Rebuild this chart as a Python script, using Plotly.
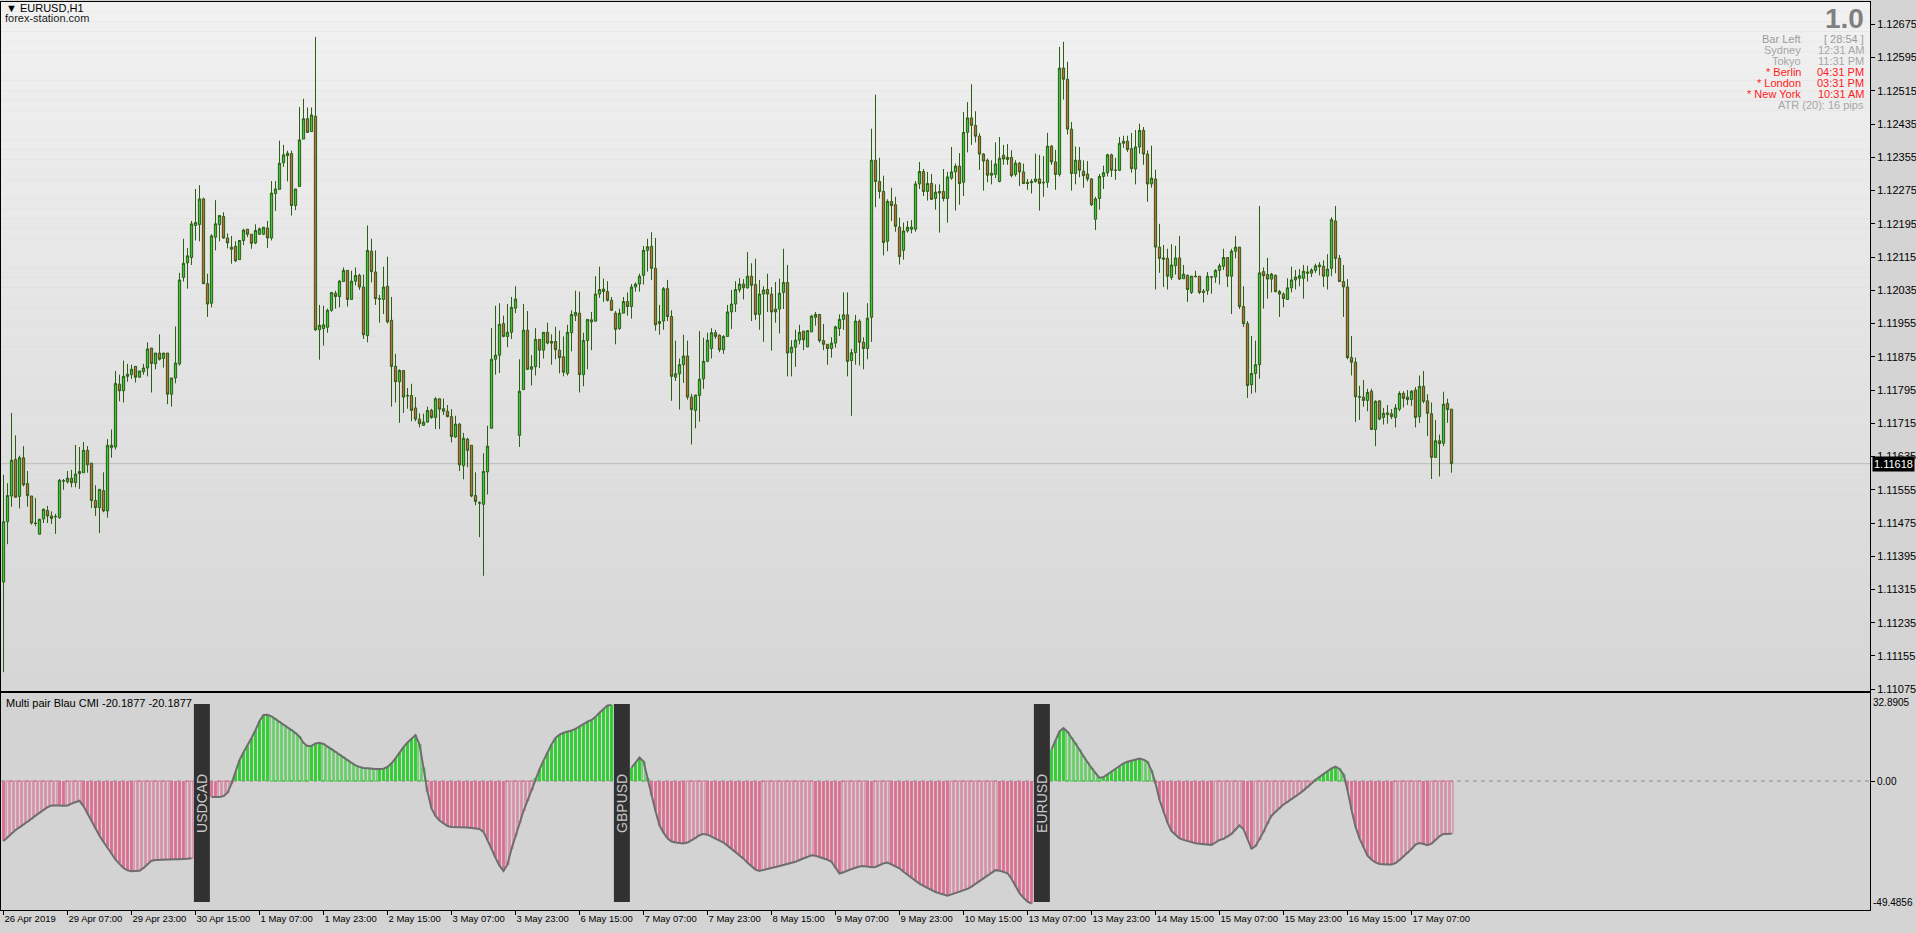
import plotly.graph_objects as go

# ---------------- data ----------------
opens = [
1.11333,1.11478,1.11540,1.11628,1.11539,1.11632,1.11570,1.11540,1.11475,1.11448,
1.11485,1.11505,1.11492,1.11491,1.11488,1.11577,1.11574,1.11583,1.11572,1.11594,
1.11596,1.11650,1.11619,1.11529,1.11512,1.11553,1.11504,1.11656,1.11658,1.11809,
1.11793,1.11828,1.11832,1.11852,1.11826,1.11839,1.11848,1.11896,1.11858,1.11884,
1.11871,1.11884,1.11785,1.11824,1.11858,1.12066,1.12101,1.12114,1.12191,1.12193,
1.12255,1.12051,1.12004,1.12163,1.12193,1.12213,1.12161,1.12134,1.12141,1.12109,
1.12155,1.12182,1.12170,1.12149,1.12170,1.12170,1.12185,1.12161,1.12268,1.12278,
1.12342,1.12359,1.12364,1.12239,1.12285,1.12399,1.12448,1.12417,1.12454,1.11940,
1.11943,1.11946,1.11987,1.12028,1.12020,1.12056,1.12083,1.12013,1.12057,1.12071,
1.12043,1.11926,1.12129,1.12079,1.12015,1.12013,1.12045,1.11963,1.11852,1.11815,
1.11842,1.11782,1.11782,1.11752,1.11725,1.11710,1.11718,1.11746,1.11729,1.11774,
1.11750,1.11744,1.11731,1.11682,1.11713,1.11613,1.11677,1.11662,1.11541,1.11524,
1.11520,1.11598,1.11703,1.11869,1.11879,1.11955,1.11924,1.11934,1.11992,1.11686,
1.11796,1.11939,1.11845,1.11851,1.11917,1.11891,1.11934,1.11908,1.11912,1.11891,
1.11875,1.11835,1.11933,1.11974,1.11980,1.11832,1.11914,1.11959,1.11961,1.12026,
1.12038,1.12032,1.12011,1.11980,1.11943,1.11980,1.12008,1.11996,1.12043,1.12050,
1.12071,1.12131,1.12141,1.12088,1.11955,1.11961,1.12039,1.11972,1.11826,1.11834,
1.11856,1.11877,1.11778,1.11746,1.11782,1.11822,1.11864,1.11895,1.11933,1.11927,
1.11892,1.11924,1.11983,1.12002,1.12036,1.12050,1.12041,1.12069,1.12049,1.11977,
1.12026,1.12037,1.12026,1.11990,1.11990,1.12030,1.12054,1.11885,1.11898,1.11915,
1.11937,1.11899,1.11935,1.11970,1.11977,1.11914,1.11905,1.11895,1.11908,1.11943,
1.11965,1.11976,1.11866,1.11885,1.11961,1.11910,1.11895,1.11970,1.12348,1.12297,
1.12273,1.12153,1.12249,1.12241,1.12187,1.12131,1.12178,1.12182,1.12182,1.12291,
1.12321,1.12273,1.12292,1.12256,1.12269,1.12273,1.12256,1.12305,1.12320,1.12334,
1.12295,1.12415,1.12450,1.12432,1.12406,1.12363,1.12348,1.12312,1.12314,1.12297,
1.12360,1.12355,1.12355,1.12314,1.12341,1.12320,1.12295,1.12294,1.12297,1.12303,
1.12295,1.12295,1.12382,1.12344,1.12314,1.12570,1.12543,1.12423,1.12316,1.12348,
1.12322,1.12315,1.12303,1.12206,1.12256,1.12309,1.12318,1.12361,1.12324,1.12324,
1.12389,1.12394,1.12376,1.12327,1.12380,1.12420,1.12363,1.12291,1.12303,1.12139,
1.12113,1.12112,1.12066,1.12094,1.12113,1.12063,1.12071,1.12030,1.12069,1.12069,
1.12033,1.12034,1.12067,1.12067,1.12083,1.12093,1.12114,1.12069,1.12129,1.12139,
1.11996,1.11955,1.11808,1.11835,1.11856,1.12080,1.12073,1.12062,1.12071,1.12032,
1.12026,1.12013,1.12041,1.12060,1.12064,1.12064,1.12076,1.12076,1.12083,1.12096,
1.12093,1.12069,1.12088,1.12202,1.12112,1.12056,1.12043,1.11873,1.11862,1.11779,
1.11778,1.11770,1.11792,1.11700,1.11769,1.11729,1.11736,1.11738,1.11729,1.11749,
1.11787,1.11778,1.11772,1.11795,1.11731,1.11804,1.11769,1.11738,1.11633,1.11673,
1.11667,1.11763,1.11749]

highs = [
1.11591,1.11571,1.11740,1.11686,1.11637,1.11660,1.11600,1.11540,1.11535,1.11485,
1.11510,1.11516,1.11503,1.11497,1.11581,1.11581,1.11600,1.11603,1.11663,1.11658,
1.11670,1.11660,1.11619,1.11566,1.11556,1.11597,1.11677,1.11700,1.11841,1.11832,
1.11866,1.11858,1.11856,1.11852,1.11841,1.11858,1.11910,1.11896,1.11884,1.11929,
1.11884,1.11884,1.11824,1.11948,1.12077,1.12159,1.12137,1.12202,1.12279,1.12288,
1.12258,1.12075,1.12170,1.12252,1.12215,1.12223,1.12172,1.12166,1.12153,1.12156,
1.12183,1.12182,1.12170,1.12194,1.12186,1.12187,1.12202,1.12298,1.12298,1.12395,
1.12385,1.12371,1.12371,1.12279,1.12476,1.12496,1.12475,1.12475,1.12645,1.12000,
1.11998,1.11991,1.12030,1.12034,1.12060,1.12090,1.12083,1.12082,1.12090,1.12075,
1.12073,1.12191,1.12159,1.12131,1.12024,1.12092,1.12116,1.12019,1.11882,1.11845,
1.11842,1.11800,1.11810,1.11778,1.11739,1.11738,1.11755,1.11750,1.11778,1.11774,
1.11774,1.11759,1.11749,1.11733,1.11716,1.11692,1.11680,1.11662,1.11597,1.11527,
1.11643,1.11709,1.11944,1.11998,1.12004,1.11974,1.12002,1.12019,1.12045,1.11869,
1.12002,1.11985,1.11879,1.11944,1.11917,1.11934,1.11957,1.11929,1.11947,1.11938,
1.11924,1.11952,1.11987,1.12034,1.12032,1.11933,1.11965,1.11983,1.12069,1.12092,
1.12063,1.12057,1.12019,1.11985,1.11991,1.12019,1.12030,1.12050,1.12054,1.12075,
1.12142,1.12159,1.12175,1.12161,1.12000,1.12043,1.12060,1.11987,1.11914,1.11871,
1.11928,1.11914,1.11786,1.11783,1.11937,1.11921,1.11933,1.11944,1.11940,1.11929,
1.11927,1.12000,1.12036,1.12057,1.12064,1.12062,1.12127,1.12100,1.12111,1.12060,
1.12045,1.12075,1.12043,1.12055,1.12063,1.12135,1.12096,1.11915,1.11940,1.11952,
1.11937,1.11938,1.11976,1.11983,1.11977,1.11954,1.11905,1.11922,1.11950,1.11977,
1.12030,1.12030,1.11894,1.11976,1.11965,1.11922,1.12004,1.12424,1.12506,1.12354,
1.12311,1.12254,1.12282,1.12260,1.12210,1.12198,1.12202,1.12204,1.12298,1.12344,
1.12327,1.12320,1.12315,1.12290,1.12290,1.12327,1.12320,1.12380,1.12340,1.12365,
1.12464,1.12488,1.12531,1.12466,1.12413,1.12365,1.12352,1.12348,1.12391,1.12404,
1.12385,1.12387,1.12372,1.12348,1.12344,1.12340,1.12303,1.12303,1.12364,1.12361,
1.12358,1.12414,1.12385,1.12373,1.12621,1.12633,1.12585,1.12440,1.12381,1.12380,
1.12348,1.12346,1.12305,1.12260,1.12315,1.12335,1.12364,1.12364,1.12354,1.12404,
1.12407,1.12407,1.12414,1.12421,1.12436,1.12428,1.12372,1.12383,1.12325,1.12195,
1.12144,1.12135,1.12146,1.12142,1.12166,1.12096,1.12073,1.12069,1.12082,1.12069,
1.12038,1.12079,1.12069,1.12086,1.12099,1.12135,1.12114,1.12135,1.12166,1.12139,
1.12045,1.11961,1.11925,1.11914,1.12238,1.12090,1.12113,1.12077,1.12073,1.12036,
1.12030,1.12064,1.12092,1.12084,1.12086,1.12096,1.12094,1.12088,1.12099,1.12103,
1.12107,1.12122,1.12211,1.12238,1.12120,1.12096,1.12062,1.11925,1.11873,1.11805,
1.11819,1.11798,1.11798,1.11770,1.11770,1.11752,1.11759,1.11749,1.11761,1.11792,
1.11792,1.11795,1.11795,1.11802,1.11830,1.11841,1.11785,1.11765,1.11723,1.11688,
1.11791,1.11774,1.11749]

lows = [
1.11116,1.11424,1.11514,1.11537,1.11510,1.11563,1.11514,1.11471,1.11467,1.11448,
1.11475,1.11475,1.11473,1.11449,1.11485,1.11555,1.11570,1.11561,1.11561,1.11557,
1.11596,1.11596,1.11511,1.11492,1.11451,1.11501,1.11488,1.11632,1.11652,1.11768,
1.11765,1.11815,1.11822,1.11813,1.11824,1.11832,1.11828,1.11789,1.11845,1.11866,
1.11849,1.11761,1.11755,1.11811,1.11854,1.12056,1.12039,1.12096,1.12155,1.12153,
1.12050,1.11971,1.11994,1.12131,1.12153,1.12159,1.12136,1.12099,1.12103,1.12109,
1.12144,1.12163,1.12135,1.12146,1.12169,1.12168,1.12137,1.12155,1.12226,1.12278,
1.12332,1.12297,1.12215,1.12228,1.12285,1.12399,1.12415,1.12417,1.11937,1.11868,
1.11902,1.11933,1.11983,1.11991,1.11994,1.12056,1.11996,1.12013,1.12047,1.12036,
1.11918,1.11910,1.12054,1.12000,1.11957,1.11978,1.11955,1.11755,1.11765,1.11716,
1.11740,1.11750,1.11720,1.11720,1.11705,1.11709,1.11716,1.11726,1.11701,1.11701,
1.11735,1.11729,1.11669,1.11680,1.11600,1.11580,1.11609,1.11537,1.11518,1.11441,
1.11348,1.11544,1.11703,1.11832,1.11836,1.11922,1.11898,1.11918,1.11980,1.11658,
1.11796,1.11843,1.11806,1.11830,1.11848,1.11871,1.11905,1.11856,1.11869,1.11835,
1.11828,1.11830,1.11888,1.11961,1.11789,1.11804,1.11845,1.11891,1.11959,1.12017,
1.12007,1.12008,1.11986,1.11905,1.11940,1.11980,1.11974,1.11967,1.12032,1.12032,
1.12049,1.12080,1.12060,1.11938,1.11928,1.11940,1.11961,1.11769,1.11817,1.11748,
1.11812,1.11772,1.11664,1.11703,1.11719,1.11798,1.11862,1.11871,1.11918,1.11886,
1.11882,1.11924,1.11942,1.11983,1.12030,1.12013,1.12039,1.11961,1.11964,1.11940,
1.11911,1.11983,1.11890,1.11957,1.11931,1.11990,1.11828,1.11828,1.11851,1.11905,
1.11891,1.11898,1.11935,1.11950,1.11909,1.11891,1.11856,1.11873,1.11897,1.11925,
1.11940,1.11828,1.11733,1.11856,1.11854,1.11845,1.11869,1.11911,1.12235,1.12256,
1.12119,1.12129,1.12202,1.12176,1.12097,1.12109,1.12174,1.12172,1.12176,1.12279,
1.12262,1.12251,1.12253,1.12229,1.12174,1.12249,1.12198,1.12301,1.12227,1.12241,
1.12262,1.12367,1.12385,1.12391,1.12325,1.12275,1.12295,1.12290,1.12305,1.12295,
1.12337,1.12337,1.12307,1.12309,1.12286,1.12292,1.12277,1.12268,1.12294,1.12227,
1.12260,1.12282,1.12337,1.12277,1.12309,1.12494,1.12410,1.12275,1.12290,1.12307,
1.12282,1.12297,1.12238,1.12180,1.12229,1.12279,1.12309,1.12308,1.12301,1.12322,
1.12378,1.12368,1.12318,1.12290,1.12364,1.12337,1.12248,1.12282,1.12037,1.12077,
1.12043,1.12037,1.12060,1.12073,1.12060,1.12063,1.12007,1.12026,1.12066,1.12026,
1.12006,1.12024,1.12027,1.12053,1.12049,1.12084,1.12043,1.11978,1.12112,1.11990,
1.11947,1.11776,1.11786,1.11789,1.11822,1.11991,1.12015,1.12030,1.12030,1.11971,
1.11994,1.12013,1.12030,1.12037,1.12045,1.12015,1.12056,1.12067,1.12077,1.12071,
1.12043,1.12037,1.12069,1.12076,1.12056,1.11971,1.11869,1.11830,1.11718,1.11723,
1.11755,1.11744,1.11700,1.11660,1.11722,1.11712,1.11714,1.11725,1.11705,1.11744,
1.11753,1.11759,1.11757,1.11705,1.11716,1.11763,1.11684,1.11581,1.11633,1.11587,
1.11660,1.11716,1.11596]

closes = [
1.11478,1.11541,1.11626,1.11537,1.11632,1.11567,1.11541,1.11475,1.11474,1.11484,
1.11508,1.11492,1.11486,1.11490,1.11578,1.11576,1.11583,1.11572,1.11593,1.11599,
1.11650,1.11615,1.11529,1.11512,1.11556,1.11504,1.11662,1.11662,1.11811,1.11793,
1.11828,1.11833,1.11845,1.11826,1.11841,1.11848,1.11894,1.11859,1.11884,1.11869,
1.11884,1.11785,1.11824,1.11860,1.12060,1.12100,1.12118,1.12195,1.12198,1.12255,
1.12051,1.12002,1.12166,1.12195,1.12215,1.12161,1.12149,1.12139,1.12106,1.12155,
1.12180,1.12170,1.12148,1.12179,1.12183,1.12187,1.12161,1.12269,1.12279,1.12341,
1.12361,1.12365,1.12239,1.12279,1.12397,1.12448,1.12415,1.12457,1.11940,1.11951,
1.11952,1.11987,1.12030,1.12020,1.12057,1.12083,1.12013,1.12057,1.12071,1.12043,
1.11928,1.12131,1.12080,1.12015,1.12014,1.12043,1.11959,1.11852,1.11815,1.11842,
1.11778,1.11781,1.11746,1.11725,1.11714,1.11718,1.11746,1.11729,1.11774,1.11749,
1.11744,1.11731,1.11683,1.11713,1.11615,1.11679,1.11650,1.11540,1.11527,1.11523,
1.11599,1.11660,1.11869,1.11879,1.11953,1.11924,1.11934,1.11994,1.12014,1.11792,
1.11939,1.11845,1.11851,1.11917,1.11891,1.11934,1.11908,1.11912,1.11892,1.11873,
1.11838,1.11934,1.11977,1.11982,1.11832,1.11914,1.11965,1.11964,1.12026,1.12037,
1.12032,1.12011,1.11987,1.11941,1.11980,1.12008,1.11996,1.12043,1.12050,1.12069,
1.12131,1.12140,1.12088,1.11952,1.11960,1.12039,1.11972,1.11828,1.11834,1.11856,
1.11877,1.11778,1.11748,1.11783,1.11821,1.11864,1.11915,1.11933,1.11924,1.11892,
1.11924,1.11983,1.12002,1.12037,1.12050,1.12041,1.12069,1.12047,1.11977,1.12026,
1.12036,1.12026,1.11983,1.11983,1.12028,1.12054,1.11884,1.11898,1.11915,1.11934,
1.11916,1.11938,1.11973,1.11977,1.11914,1.11905,1.11895,1.11908,1.11947,1.11965,
1.11976,1.11864,1.11885,1.11961,1.11910,1.11895,1.11968,1.12348,1.12297,1.12273,
1.12150,1.12249,1.12239,1.12189,1.12116,1.12178,1.12187,1.12187,1.12291,1.12321,
1.12273,1.12292,1.12254,1.12271,1.12273,1.12256,1.12308,1.12320,1.12334,1.12292,
1.12415,1.12450,1.12432,1.12406,1.12363,1.12346,1.12312,1.12317,1.12339,1.12353,
1.12351,1.12350,1.12311,1.12341,1.12320,1.12292,1.12292,1.12297,1.12303,1.12292,
1.12294,1.12382,1.12344,1.12314,1.12570,1.12543,1.12423,1.12316,1.12348,1.12324,
1.12311,1.12303,1.12241,1.12255,1.12309,1.12318,1.12361,1.12324,1.12324,1.12389,
1.12394,1.12374,1.12328,1.12380,1.12420,1.12363,1.12291,1.12305,1.12139,1.12112,
1.12110,1.12069,1.12096,1.12113,1.12062,1.12074,1.12037,1.12069,1.12068,1.12030,
1.12030,1.12069,1.12067,1.12083,1.12094,1.12114,1.12069,1.12129,1.12139,1.11996,
1.11955,1.11806,1.11835,1.11856,1.12077,1.12070,1.12062,1.12074,1.12032,1.12026,
1.12015,1.12041,1.12060,1.12067,1.12070,1.12081,1.12079,1.12084,1.12094,1.12092,
1.12069,1.12086,1.12205,1.12112,1.12056,1.12043,1.11873,1.11862,1.11779,1.11778,
1.11770,1.11789,1.11700,1.11768,1.11725,1.11739,1.11740,1.11731,1.11752,1.11787,
1.11775,1.11772,1.11792,1.11729,1.11804,1.11768,1.11739,1.11633,1.11673,1.11666,
1.11761,1.11748,1.11618]

tick_labels = ["26 Apr 2019", "29 Apr 07:00", "29 Apr 23:00", "30 Apr 15:00",
               "1 May 07:00", "1 May 23:00", "2 May 15:00", "3 May 07:00",
               "3 May 23:00", "6 May 15:00", "7 May 07:00", "7 May 23:00",
               "8 May 15:00", "9 May 07:00", "9 May 23:00", "10 May 15:00",
               "13 May 07:00", "13 May 23:00", "14 May 15:00", "15 May 07:00",
               "15 May 23:00", "16 May 15:00", "17 May 07:00"]
tick_every = 16

# Multi pair CMI segments (last bars of each pair, shown side by side)
cmi_tail = [
-23.0,-21.5,-20.0,-18.8,-17.8,-16.8,-15.6,-14.5,-13.3,-12.2,
-11.0,-10.0,-9.4,-9.3,-9.4,-9.5,-9.4,-8.7,-8.0,-7.6,
-9.6,-12.6,-15.4,-18.2,-21.0,-23.4,-25.5,-27.8,-30.2,-32.0,
-33.4,-34.3,-34.6,-34.5,-34.4,-33.4,-31.8,-30.6,-30.3,-30.2,
-30.1,-30.0,-30.0,-30.0,-30.0,-30.0,-29.8,-29.6]
cmi_usdcad = [
-6.1,-6.2,-6.1,-5.8,-4.5,-1.0,3.5,8.0,11.0,13.5,
16.5,19.5,23.0,25.3,25.4,24.8,23.8,22.8,21.6,20.5,
19.5,18.4,17.0,14.6,13.4,13.5,14.4,14.7,14.2,13.2,
12.3,11.2,10.1,9.2,8.0,7.0,6.0,5.4,5.0,4.9,
4.7,4.6,4.6,4.7,5.4,6.8,8.7,11.0,13.0,14.8,
16.4,17.6,14.0,5.0,-4.0,-10.5,-13.4,-15.2,-16.4,-17.3,
-17.6,-17.6,-17.6,-17.6,-17.8,-18.0,-18.2,-18.4,-19.5,-22.5,
-26.0,-29.5,-32.5,-34.5,-32.0,-26.0,-21.0,-16.0,-11.5,-7.5,
-3.5,1.0,4.5,7.8,11.0,14.0,16.5,17.8,18.5,18.9,
19.4,20.0,21.0,22.0,22.8,23.4,24.6,26.2,27.8,29.0,
29.2]
cmi_gbpusd = [
5.0,7.0,9.0,7.5,1.0,-5.5,-11.5,-17.0,-19.8,-22.0,
-23.2,-23.6,-23.8,-24.0,-23.6,-22.8,-21.8,-20.8,-20.3,-20.6,
-21.4,-22.2,-22.8,-23.6,-24.8,-26.0,-27.3,-28.4,-29.8,-31.4,
-32.8,-34.0,-34.5,-34.2,-33.8,-33.4,-33.0,-32.6,-32.2,-31.8,
-31.4,-31.0,-30.3,-29.6,-29.0,-28.5,-28.7,-29.2,-29.7,-30.2,
-31.0,-33.5,-35.5,-35.0,-34.3,-33.8,-33.3,-32.8,-32.6,-32.9,
-33.1,-33.0,-32.3,-31.6,-31.3,-32.0,-32.7,-33.5,-34.8,-36.0,
-37.3,-38.5,-39.4,-40.2,-41.1,-41.8,-42.6,-43.1,-43.6,-44.0,
-43.5,-43.0,-42.5,-42.0,-41.4,-40.5,-39.4,-38.3,-37.2,-36.2,
-35.2,-34.2,-34.4,-35.0,-35.4,-37.5,-40.5,-43.0,-44.8,-46.3,
-47.0]
cmi_eurusd = [
12.0,15.5,19.0,20.3,18.8,16.6,14.5,12.0,9.5,7.1,
5.0,3.0,1.2,1.5,2.6,3.4,4.5,5.6,6.8,7.4,
7.9,8.4,8.6,8.2,7.3,4.0,-0.8,-7.2,-12.0,-16.0,
-19.2,-20.6,-22.0,-22.6,-23.1,-23.6,-23.9,-24.1,-24.3,-24.5,
-24.5,-23.6,-22.6,-22.2,-21.4,-20.3,-18.6,-17.0,-18.5,-22.3,
-26.0,-25.0,-22.5,-19.5,-16.2,-13.3,-11.8,-10.4,-9.0,-8.0,
-7.0,-6.0,-4.8,-3.6,-2.4,-1.0,0.5,1.6,2.8,3.8,
4.8,5.5,4.6,2.5,-3.5,-11.0,-17.5,-22.0,-25.5,-28.6,
-30.2,-31.2,-31.8,-32.0,-32.0,-32.0,-31.5,-30.3,-29.0,-27.6,
-26.1,-24.4,-23.8,-24.2,-24.6,-24.0,-22.6,-21.2,-20.3,-20.2,
-20.1877]
cmi_segments = [cmi_tail, cmi_usdcad, cmi_gbpusd, cmi_eurusd]
segment_starts = [0, 52, 157, 262]
segment_pairs = [None, "USDCAD", "GBPUSD", "EURUSD"]
gap_bars = 4

current_price = 1.11618
price_tick0 = 1.11075
price_tick_step = 0.0008
cmi_max = 32.8905
cmi_min = -49.4856
cmi_last = -20.1877

info_rows = [("Bar Left", "[ 28:54 ]", "#9b9b9b"),
             ("Sydney", "12:31 AM", "#a6a6a6"),
             ("Tokyo", "11:31 PM", "#a6a6a6"),
             ("* Berlin", "04:31 PM", "#ff1a1a"),
             ("* London", "03:31 PM", "#ff1a1a"),
             ("* New York", "10:31 AM", "#ff1a1a")]
atr_text = "ATR (20): 16 pips"
version_text = "1.0"

# ---------------- styling / layout constants ----------------
W, H = 1916, 933
L, R, T, B = 1, 1870, 2, 910          # plot-area pixel box
MAIN_BOTTOM, SUB_TOP = 691, 693
FONT = "Liberation Sans"
BULL, BEAR, EDGE = "#38c838", "#c8683c", "#2c5e14"
GREEN, PINK = "#32cd32", "#db7093"

def px_x(px):
    return (px - L) / (R - L)

def px_y(py):
    return (B - py) / (B - T)

n = len(closes)
xs = list(range(n))
bar_px = 4.0
x_lo = (L - 3.5) / bar_px
x_hi = (R - 3.5) / bar_px

fig = go.Figure()

fig.add_trace(go.Candlestick(
    x=xs, open=opens, high=highs, low=lows, close=closes,
    xaxis="x", yaxis="y",
    increasing=dict(fillcolor=BULL, line=dict(color=EDGE, width=1)),
    decreasing=dict(fillcolor=BEAR, line=dict(color=EDGE, width=1)),
    whiskerwidth=0, showlegend=False, hoverinfo="skip"))

# histogram buckets
buckets = {k: ([], []) for k in ("gs", "gh", "ps", "ph")}
line_x, line_y = [], []
for seg, start in zip(cmi_segments, segment_starts):
    prev = None
    for k, v in enumerate(seg):
        xi = start + k
        strong = prev is None or abs(v) >= abs(prev)
        key = ("g" if v >= 0 else "p") + ("s" if strong else "h")
        buckets[key][0].append(xi)
        buckets[key][1].append(v)
        line_x.append(xi)
        line_y.append(v)
        prev = v
    line_x.append(None)
    line_y.append(None)

for key, (bx, by) in buckets.items():
    col = GREEN if key[0] == "g" else PINK
    if key[1] == "s":
        marker = dict(color=col, line=dict(width=0))
    else:
        marker = dict(color="rgba(0,0,0,0)", line=dict(color=col, width=1))
    fig.add_trace(go.Bar(x=bx, y=by, width=0.72, marker=marker,
                         xaxis="x2", yaxis="y2", showlegend=False,
                         hoverinfo="skip"))

fig.add_trace(go.Scatter(x=line_x, y=line_y, mode="lines",
                         line=dict(color="#6e6e6e", width=2),
                         xaxis="x2", yaxis="y2", showlegend=False,
                         hoverinfo="skip", connectgaps=False))

shapes = []
# vertical gradient of the main pane
n_strip = 70
top_c, bot_c = (241, 241, 241), (214, 214, 214)
for i in range(n_strip):
    f = i / (n_strip - 1)
    c = tuple(round(top_c[j] + (bot_c[j] - top_c[j]) * f) for j in range(3))
    shapes.append(dict(type="rect", xref="x domain", yref="y domain",
                       x0=0, x1=1, y0=1 - (i + 1) / n_strip, y1=1 - i / n_strip,
                       fillcolor="rgb(%d,%d,%d)" % c, line=dict(width=0),
                       layer="below"))
# current price line
shapes.append(dict(type="line", xref="x domain", yref="y", x0=0, x1=1,
                   y0=current_price, y1=current_price,
                   line=dict(color="#bdbdbd", width=1), layer="below"))
# zero line of the indicator
shapes.append(dict(type="line", xref="x2 domain", yref="y2", x0=0, x1=1,
                   y0=0, y1=0, line=dict(color="#8a8a8a", width=1, dash="4px,4px"),
                   layer="below"))
annotations = []
# pair label boxes
for start, name in zip(segment_starts, segment_pairs):
    if name is None:
        continue
    x0 = start - gap_bars - 0.4
    x1 = start - 0.4
    shapes.append(dict(type="rect", xref="x2", yref="y2 domain",
                       x0=x0, x1=x1, y0=0.037, y1=0.949,
                       fillcolor="#313131", line=dict(width=0)))
    annotations.append(dict(xref="x2", yref="y2 domain", x=(x0 + x1) / 2,
                            y=0.493, text=name, showarrow=False,
                            textangle=-90, font=dict(color="#c8c8c8", size=14,
                                                     family=FONT)))

# texts
annotations += [
    dict(xref="paper", yref="paper", x=px_x(4), y=px_y(8), xanchor="left",
         yanchor="middle", text="▼ EURUSD,H1", showarrow=False,
         font=dict(size=11, color="#000000", family=FONT)),
    dict(xref="paper", yref="paper", x=px_x(3), y=px_y(18), xanchor="left",
         yanchor="middle", text="forex-station.com", showarrow=False,
         font=dict(size=11, color="#1a1a1a", family=FONT)),
    dict(xref="paper", yref="paper", x=px_x(4), y=px_y(703), xanchor="left",
         yanchor="middle",
         text="Multi pair Blau CMI %.4f %.4f" % (cmi_last, cmi_last),
         showarrow=False, font=dict(size=11, color="#000000", family=FONT)),
    dict(xref="paper", yref="paper", x=px_x(1866), y=px_y(18), xanchor="right",
         yanchor="middle", text="<b>%s</b>" % version_text, showarrow=False,
         font=dict(size=28, color="#808080", family=FONT)),
    dict(xref="paper", yref="paper", x=px_x(1866), y=px_y(105), xanchor="right",
         yanchor="middle", text=atr_text, showarrow=False,
         font=dict(size=11, color="#a6a6a6", family=FONT)),
    dict(xref="x domain", yref="y", x=1.0, y=current_price, xanchor="left",
         yanchor="middle", text="1.11618", showarrow=False, bgcolor="#000000",
         font=dict(size=11, color="#ffffff", family=FONT), borderpad=1, xshift=2),
    dict(xref="x2 domain", yref="y2", x=1.0, y=cmi_max, xanchor="left",
         yanchor="top", text="%.4f" % cmi_max, showarrow=False, xshift=1,
         font=dict(size=10, color="#000000", family=FONT)),
    dict(xref="x2 domain", yref="y2", x=1.0, y=cmi_min, xanchor="left",
         yanchor="bottom", text="%.4f" % cmi_min, showarrow=False, xshift=1,
         font=dict(size=10, color="#000000", family=FONT)),
]
for i, (lab, val, col) in enumerate(info_rows):
    yc = 39 + i * 11
    annotations.append(dict(xref="paper", yref="paper", x=px_x(1803), y=px_y(yc),
                            xanchor="right", yanchor="middle", text=lab,
                            showarrow=False, font=dict(size=11, color=col, family=FONT)))
    annotations.append(dict(xref="paper", yref="paper", x=px_x(1866), y=px_y(yc),
                            xanchor="right", yanchor="middle", text=val,
                            showarrow=False, font=dict(size=11, color=col, family=FONT)))

main_lo = price_tick0 - (MAIN_BOTTOM - 689.2) / 33.24 * price_tick_step
main_hi = price_tick0 + 20 * price_tick_step + (24.4 - T) / 33.24 * price_tick_step
sub_px_per_unit = (B - 781.0) / (-cmi_min)
sub_hi = (781.0 - SUB_TOP) / sub_px_per_unit

axis_common = dict(showgrid=False, zeroline=False, showline=True, mirror=True,
                   linecolor="#000000", linewidth=1)

fig.update_layout(
    width=W, height=H,
    margin=dict(l=L, r=W - R, t=T, b=H - B, pad=0, autoexpand=False),
    paper_bgcolor="#d4d4d4", plot_bgcolor="#d3d3d3",
    font=dict(family=FONT, size=11, color="#000000"),
    showlegend=False, barmode="overlay", boxgap=0.2,
    xaxis=dict(domain=[0, 1], anchor="y", range=[x_lo, x_hi],
               showticklabels=False, ticks="", rangeslider=dict(visible=False),
               **axis_common),
    xaxis2=dict(domain=[0, 1], anchor="y2", range=[x_lo, x_hi],
                tickmode="array",
                tickvals=[i * tick_every for i in range(len(tick_labels))],
                ticktext=tick_labels, ticks="outside", ticklen=4,
                tickcolor="#000000", ticklabelposition="outside right",
                tickangle=0, automargin=False,
                tickfont=dict(size=9.5, family=FONT), **axis_common),
    yaxis=dict(domain=[px_y(MAIN_BOTTOM), 1], anchor="x", side="right",
               range=[main_lo, main_hi], tick0=price_tick0, dtick=price_tick_step,
               tickformat=".5f", ticks="outside", ticklen=4, tickcolor="#000000",
               automargin=False,
               tickfont=dict(size=11, family=FONT), **axis_common),
    yaxis2=dict(domain=[0, px_y(SUB_TOP)], anchor="x2", side="right",
                range=[cmi_min, sub_hi], tickmode="array", tickvals=[0],
                ticktext=["0.00"], ticks="outside", ticklen=4, tickcolor="#000000",
                automargin=False,
                tickfont=dict(size=10, family=FONT), **axis_common),
    shapes=shapes, annotations=annotations,
)

fig.write_html("out.html",
               config={"displayModeBar": False},
               post_script="document.body.style.margin='0';"
                           "document.body.style.overflow='hidden';")
